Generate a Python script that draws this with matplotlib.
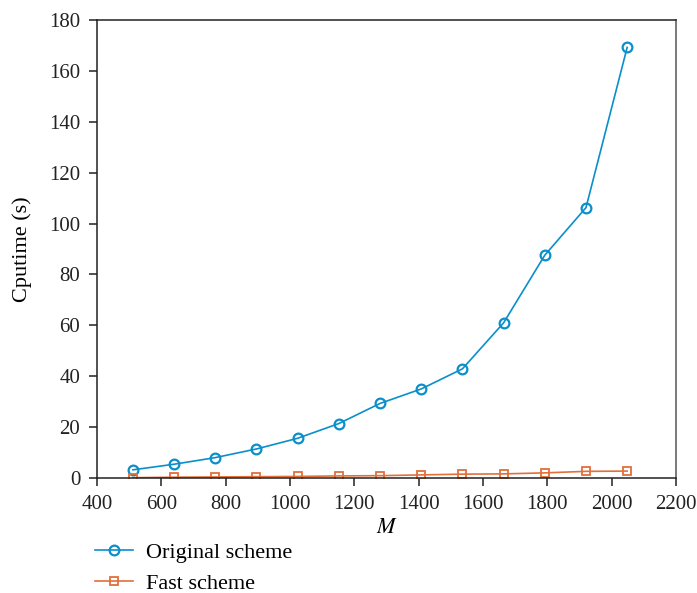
import numpy as np
import matplotlib
matplotlib.use('Agg')
from matplotlib import pyplot as plt

# data
m_values = [512, 640, 768, 896, 1024, 1152, 1280, 1408, 1536, 1664, 1792, 1920, 2048]
original_scheme = [3.2, 5.4, 8.0, 11.4, 15.6, 21.4, 29.3, 35.0, 42.9, 61.0, 87.6, 106.3, 169.3]
fast_scheme = [0.1, 0.3, 0.4, 0.5, 0.6, 0.8, 0.9, 1.2, 1.5, 1.6, 2.0, 2.6, 2.7]

x_ticks = [400, 600, 800, 1000, 1200, 1400, 1600, 1800, 2000, 2200]
y_ticks = [0, 20, 40, 60, 80, 100, 120, 140, 160, 180]

plt.rcParams['font.family'] = ['Liberation Serif', 'DejaVu Serif']
plt.rcParams['mathtext.fontset'] = 'stix'

fig = plt.figure(figsize=(6.97, 5.93), dpi=100)
ax = fig.add_axes([0.139, 0.194, 0.831, 0.772])

blue = '#0a8fcb'
orange = '#e2703a'

ax.plot(m_values, original_scheme, color=blue, linewidth=1.2, marker='o',
        markersize=7, markerfacecolor='none', markeredgewidth=1.6,
        label='Original scheme')
ax.plot(m_values, fast_scheme, color=orange, linewidth=1.2, marker='s',
        markersize=5.5, markerfacecolor='none', markeredgewidth=1.3,
        label='Fast scheme')

ax.set_xlim(400, 2200)
ax.set_ylim(0, 180)
ax.set_xticks(x_ticks)
ax.set_yticks(y_ticks)
ax.tick_params(labelsize=15, direction='out', length=6, width=1.1, pad=6,
               colors='#222222', top=False, right=False)

for s in ax.spines.values():
    s.set_linewidth(1.1)
    s.set_color('#222222')
ax.spines['right'].set_color('#555555')

ax.set_xlabel('$M$', fontsize=16, labelpad=4)
ax.set_ylabel('Cputime (s)', fontsize=16, labelpad=12)

fig.legend(loc='upper left', bbox_to_anchor=(0.124, 0.101), frameon=False,
           fontsize=16, handlelength=1.7, handletextpad=0.6, labelspacing=0.5,
           borderaxespad=0)

fig.savefig('out.png', dpi=100)
